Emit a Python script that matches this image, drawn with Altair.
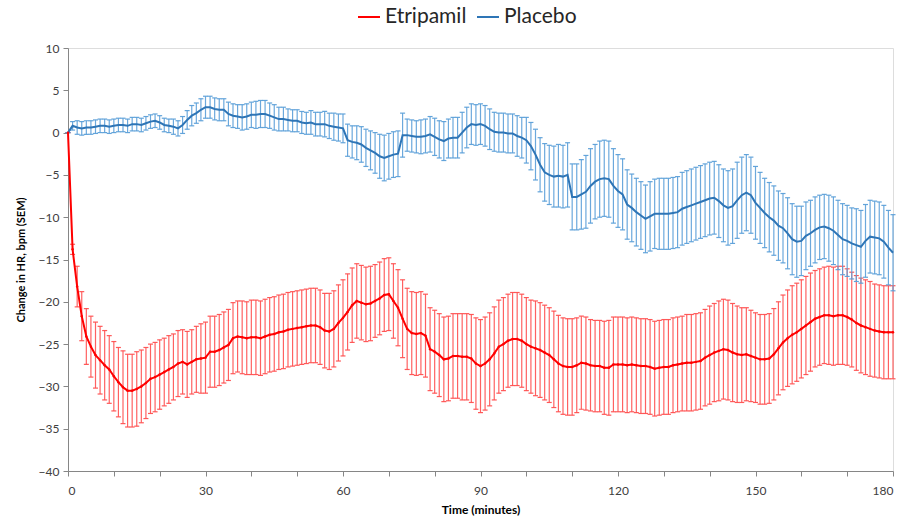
import altair as alt
import pandas as pd

minutes = list(range(0, 181))

placebo_mean = [
    0.0, 0.8, 0.6, 0.5, 0.6, 0.6, 0.7, 0.8, 0.8, 0.7,
    0.8, 0.9, 0.9, 0.8, 1.0, 1.0, 0.9, 1.1, 1.3, 1.4,
    1.2, 0.9, 0.8, 0.7, 0.5, 0.9, 1.5, 2.0, 2.3, 2.7,
    3.0, 3.0, 2.8, 2.7, 2.7, 2.2, 2.0, 1.9, 1.8, 1.9,
    2.1, 2.1, 2.2, 2.2, 2.0, 1.8, 1.6, 1.6, 1.5, 1.4,
    1.4, 1.2, 1.1, 1.2, 1.0, 1.0, 1.0, 0.8, 0.7, 0.6,
    0.5, -0.9, -1.1, -1.2, -1.4, -1.8, -2.1, -2.4, -2.8, -3.0,
    -2.8, -2.6, -2.5, -0.3, -0.3, -0.4, -0.5, -0.5, -0.4, -0.2,
    -0.5, -0.8, -1.0, -0.7, -0.6, -0.6, 0.0, 0.6, 1.0, 0.9,
    1.0, 0.8, 0.4, 0.1, 0.0, 0.0, -0.1, -0.1, -0.4, -0.6,
    -0.9, -1.6, -2.6, -3.8, -4.7, -5.0, -5.2, -5.1, -5.2, -5.0,
    -7.6, -7.6, -7.3, -7.0, -6.3, -5.8, -5.5, -5.4, -5.5, -6.3,
    -6.9, -7.3, -8.5, -8.9, -9.4, -9.8, -10.2, -9.9, -9.6, -9.6,
    -9.6, -9.6, -9.5, -9.4, -9.0, -8.8, -8.6, -8.4, -8.2, -8.0,
    -7.8, -7.7, -8.1, -8.6, -8.9, -8.7, -8.0, -7.4, -7.1, -7.4,
    -8.3, -8.9, -9.5, -10.0, -10.4, -11.0, -11.3, -11.9, -12.6, -12.9,
    -12.8, -12.2, -11.9, -11.5, -11.2, -11.1, -11.3, -11.6, -12.1, -12.6,
    -12.8, -13.1, -13.3, -13.5, -12.8, -12.3, -12.4, -12.5, -12.9, -13.6,
    -14.2,
]

placebo_sem = [
    0.0, 0.5, 0.8, 0.8, 0.8, 0.8, 0.8, 0.8, 0.8, 0.8,
    0.8, 0.8, 0.8, 0.8, 0.8, 0.8, 0.8, 0.8, 0.8, 0.8,
    0.8, 0.8, 0.8, 0.9, 0.9, 1.0, 1.1, 1.2, 1.2, 1.3,
    1.3, 1.3, 1.3, 1.3, 1.3, 1.4, 1.4, 1.4, 1.5, 1.5,
    1.5, 1.6, 1.6, 1.6, 1.5, 1.5, 1.4, 1.4, 1.3, 1.3,
    1.3, 1.3, 1.3, 1.4, 1.4, 1.4, 1.5, 1.5, 1.6, 1.6,
    1.7, 1.9, 1.9, 2.0, 2.1, 2.2, 2.3, 2.4, 2.6, 2.7,
    2.7, 2.7, 2.7, 2.6, 1.9, 1.9, 1.9, 2.0, 2.0, 2.1,
    2.2, 2.2, 2.3, 2.3, 2.4, 2.4, 2.4, 2.4, 2.4, 2.4,
    2.4, 2.4, 2.4, 2.3, 2.3, 2.3, 2.3, 2.3, 2.4, 2.4,
    2.7, 2.8, 3.0, 3.2, 3.4, 3.5, 3.6, 3.7, 3.7, 3.8,
    3.9, 3.9, 4.1, 4.3, 4.4, 4.4, 4.5, 4.5, 4.5, 4.4,
    4.3, 4.2, 4.1, 4.0, 4.0, 4.0, 4.0, 4.1, 4.1, 4.2,
    4.2, 4.2, 4.2, 4.2, 4.3, 4.3, 4.3, 4.3, 4.3, 4.3,
    4.3, 4.3, 4.3, 4.3, 4.4, 4.4, 4.5, 4.5, 4.5, 4.5,
    4.3, 4.2, 4.1, 4.1, 4.1, 4.1, 4.1, 4.2, 4.2, 4.2,
    4.1, 4.0, 3.9, 3.9, 3.8, 3.8, 3.9, 4.0, 4.1, 4.2,
    4.2, 4.2, 4.3, 4.3, 4.3, 4.3, 4.3, 4.3, 4.3, 4.4,
    4.5,
]

etripamil_mean = [
    0.0, -13.8, -18.2, -21.7, -24.1, -25.3, -26.3, -26.9, -27.5, -28.0,
    -28.8, -29.5, -30.1, -30.5, -30.5, -30.3, -30.0, -29.6, -29.1, -28.9,
    -28.6, -28.3, -28.0, -27.7, -27.3, -27.1, -27.4, -27.1, -26.8, -26.7,
    -26.6, -25.9, -25.9, -25.7, -25.4, -25.1, -24.3, -24.1, -24.2, -24.3,
    -24.2, -24.2, -24.3, -24.1, -23.9, -23.8, -23.6, -23.5, -23.3, -23.2,
    -23.1, -23.0, -22.9, -22.8, -22.8, -23.0, -23.4, -23.5, -23.2, -22.5,
    -21.9, -21.2, -20.4, -19.9, -20.1, -20.3, -20.2, -19.9, -19.6, -19.2,
    -19.1, -19.9, -20.7, -22.0, -23.2, -23.7, -23.8, -23.7, -24.0, -25.6,
    -25.9, -26.3, -26.8, -26.7, -26.4, -26.4, -26.5, -26.5, -26.7, -27.3,
    -27.6, -27.3, -26.8, -26.1, -25.3, -25.0, -24.6, -24.4, -24.4, -24.6,
    -25.0, -25.3, -25.5, -25.7, -26.0, -26.3, -26.8, -27.3, -27.6, -27.7,
    -27.7, -27.5, -27.2, -27.3, -27.5, -27.6, -27.6, -27.8, -27.8, -27.4,
    -27.4, -27.4, -27.5, -27.4, -27.5, -27.6, -27.6, -27.7, -27.9, -27.8,
    -27.7, -27.7, -27.5, -27.4, -27.3, -27.2, -27.2, -27.1, -27.0, -26.6,
    -26.3, -26.0, -25.8, -25.6, -25.7, -26.0, -26.2, -26.3, -26.2, -26.4,
    -26.6, -26.8, -26.8, -26.7, -26.2, -25.5, -24.8, -24.3, -23.9, -23.6,
    -23.2, -22.8, -22.4, -22.0, -21.8, -21.6, -21.6, -21.7, -21.6, -21.6,
    -21.8, -22.1, -22.5, -22.8, -23.0, -23.2, -23.4, -23.5, -23.6, -23.6,
    -23.6,
]

etripamil_sem = [
    0.0, 0.6, 2.4, 2.9, 3.3, 3.6, 3.9, 4.0, 4.1, 4.0,
    4.1, 4.1, 4.3, 4.3, 4.3, 4.4, 4.3, 4.2, 4.1, 4.1,
    4.1, 4.0, 4.0, 3.9, 3.9, 3.8, 3.9, 3.8, 3.9, 4.1,
    4.2, 4.2, 4.2, 4.2, 4.2, 4.2, 4.2, 4.2, 4.3, 4.3,
    4.4, 4.4, 4.4, 4.4, 4.4, 4.4, 4.4, 4.4, 4.4, 4.4,
    4.4, 4.4, 4.4, 4.4, 4.4, 4.4, 4.4, 4.5, 4.5, 4.5,
    4.5, 4.5, 4.4, 4.4, 4.4, 4.4, 4.4, 4.3, 4.3, 4.3,
    4.3, 4.4, 4.5, 4.6, 4.8, 4.9, 4.9, 4.9, 4.9, 4.9,
    4.9, 4.9, 5.0, 5.0, 5.0, 5.0, 5.1, 5.1, 5.2, 5.4,
    5.5, 5.5, 5.5, 5.5, 5.5, 5.5, 5.5, 5.5, 5.5, 5.5,
    5.5, 5.5, 5.6, 5.6, 5.6, 5.6, 5.7, 5.7, 5.7, 5.7,
    5.7, 5.6, 5.5, 5.5, 5.4, 5.4, 5.4, 5.5, 5.6, 5.6,
    5.6, 5.6, 5.6, 5.6, 5.6, 5.6, 5.6, 5.6, 5.6, 5.6,
    5.6, 5.6, 5.6, 5.6, 5.6, 5.7, 5.7, 5.7, 5.7, 5.7,
    5.8, 5.8, 5.9, 5.9, 5.9, 5.8, 5.7, 5.6, 5.5, 5.4,
    5.3, 5.3, 5.3, 5.3, 5.4, 5.5, 5.6, 5.7, 5.8, 5.8,
    5.8, 5.8, 5.8, 5.7, 5.7, 5.7, 5.8, 5.8, 5.8, 5.8,
    5.7, 5.6, 5.6, 5.6, 5.6, 5.6, 5.5, 5.5, 5.5, 5.5,
    5.5,
]

series_names = ["Etripamil", "Placebo"]
line_colors = ["#FF0000", "#2E75B6"]
bar_colors = ["#FF5050", "#5B9FD8"]

rows = []
for name, means, sems in [("Etripamil", etripamil_mean, etripamil_sem),
                          ("Placebo", placebo_mean, placebo_sem)]:
    for t, m, s in zip(minutes, means, sems):
        rows.append({"t": t, "mean": m, "lo": m - s, "hi": m + s, "series": name})
df = pd.DataFrame(rows)

FONT = "Lato"

x_scale = alt.Scale(domain=[0, 180], nice=False, zero=False)
y_scale = alt.Scale(domain=[-40, 10], nice=False, zero=False)

x_enc = alt.X("t:Q", scale=x_scale, title="Time (minutes)",
              axis=alt.Axis(values=list(range(0, 181, 10)),
                            labelExpr="datum.value % 30 == 0 ? datum.label : ''",
                            grid=False, tickSize=5, labelPadding=9,
                            titlePadding=8, labelFontSize=12, titleFontSize=12,
                            titleFontWeight="bold", labelColor="#404040",
                            titleColor="#000000", domainColor="#868686",
                            tickColor="#868686", labelFont=FONT, titleFont=FONT))
y_axis = alt.Axis(values=list(range(-40, 11, 5)), grid=False, tickSize=5,
                  labelPadding=4, titlePadding=12, labelFontSize=12,
                  titleFontSize=11, titleFontWeight="bold",
                  labelColor="#404040", titleColor="#000000",
                  domainColor="#868686", tickColor="#868686",
                  labelFont=FONT, titleFont=FONT)

layers = []
for name, bc in zip(series_names, bar_colors):
    base = alt.Chart(df).transform_filter(alt.datum.series == name)
    rule = base.mark_rule(color=bc, strokeWidth=1.2, opacity=0.9).encode(
        x=x_enc,
        y=alt.Y("lo:Q", scale=y_scale, axis=y_axis, title="Change in HR, bpm (SEM)"),
        y2="hi:Q",
    )
    cap_lo = base.mark_tick(color=bc, orient="horizontal", size=5, thickness=1.2, opacity=0.95).encode(
        x="t:Q", y="lo:Q")
    cap_hi = base.mark_tick(color=bc, orient="horizontal", size=5, thickness=1.2, opacity=0.95).encode(
        x="t:Q", y="hi:Q")
    layers += [rule, cap_lo, cap_hi]

color_enc = alt.Color("series:N",
                      scale=alt.Scale(domain=series_names, range=line_colors),
                      legend=alt.Legend(orient="none", legendX=289, legendY=-43,
                                        direction="horizontal", title=None,
                                        symbolType="stroke", symbolStrokeWidth=2,
                                        symbolSize=484, labelFontSize=21,
                                        labelFont=FONT, labelColor="#262626",
                                        columnPadding=6, labelOffset=4))

lines = alt.Chart(df).mark_line(strokeWidth=2).encode(
    x="t:Q", y="mean:Q", color=color_enc, detail="series:N")

red_points = alt.Chart(df).transform_filter(alt.datum.series == "Etripamil").mark_point(
    filled=True, size=6, color="#FF0000", opacity=1).encode(x="t:Q", y="mean:Q")

chart = alt.layer(*layers, lines, red_points).properties(
    width=825, height=423,
    autosize=alt.AutoSizeParams(type="none"),
    padding={"left": 68, "top": 48, "right": 9, "bottom": 46},
).configure_view(stroke=None).configure(background="white")

chart.save("out.html", embed_options={"renderer": "svg", "actions": False})
